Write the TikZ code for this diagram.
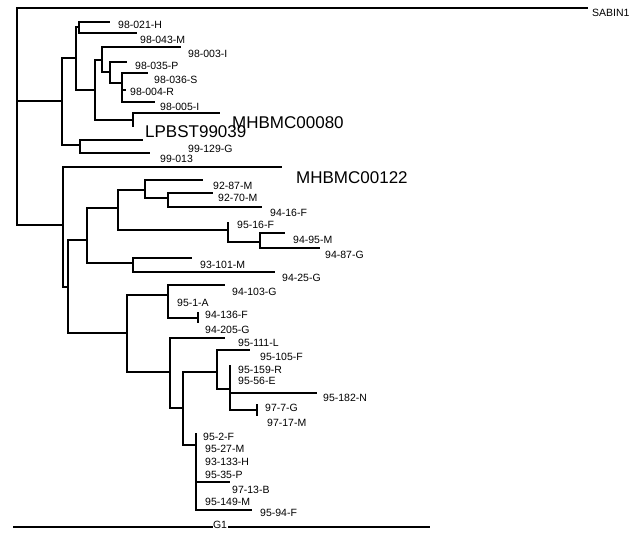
\documentclass[tikz,border=0pt]{standalone}
\usepackage{fontspec}
\setmainfont{Liberation Sans}

\begin{document}
\begin{tikzpicture}[x=1pt,y=-1pt,
    branch/.style={line width=1.1pt},
    lab/.style={anchor=west,inner sep=0pt,font=\fontsize{10.5}{11}\selectfont},
    biglab/.style={anchor=west,inner sep=0pt,font=\fontsize{17}{18}\selectfont}
]
    \useasboundingbox (0,0) rectangle (636,533);

    % Internal nodes (x of the split, y where the parent joins)
    \coordinate (root) at (17,101);
    \coordinate (A) at (62,101);
    \coordinate (A1) at (76,58);
    \coordinate (a11) at (79,27);
    \coordinate (a12) at (95,90);
    \coordinate (a121) at (102,60);
    \coordinate (a1211) at (110,72);
    \coordinate (a1212) at (122,83);
    \coordinate (a122) at (133,120);
    \coordinate (A2) at (80,145);
    \coordinate (B) at (63,225);
    \coordinate (Bc) at (68,287);
    \coordinate (B1) at (87,240);
    \coordinate (b11) at (118,208);
    \coordinate (b111) at (145,190);
    \coordinate (b1111) at (168,198);
    \coordinate (b112) at (228,230);
    \coordinate (b1121) at (260,242);
    \coordinate (b12) at (133,263);
    \coordinate (B2) at (127,333);
    \coordinate (b21) at (168,295);
    \coordinate (b211) at (198,318);
    \coordinate (b22) at (170,372);
    \coordinate (b221) at (183,408);
    \coordinate (b2211) at (217,372);
    \coordinate (b2212) at (230,389);
    \coordinate (b2213) at (257,410);
    \coordinate (b222) at (196,445);

    % Branch tips
    \foreach \n/\x/\y in {e1/110/22,e2/137/33,e3/181/47,e4/127/62,e5/148/73,e6/126/90,
        e7/155/102,e8/220/113,e9/133/127,e10/143/140,e11/150/153,e12/588/8,e13/282/167,
        e14/203/180,e15/213/193,e16/262/207,e17/228/222,e18/285/233,e19/320/248,
        e20/192/258,e21/275/272,e22/225/285,e23/198/312,e24/198/323,e25/225/338,
        e26/250/350,e27/230/365,e28/317/393,e29/257/404,e30/257/416,e31/196/433,
        e32/230/482,e33/252/510}
        \coordinate (\n) at (\x,\y);

    % Branches
    \foreach \p/\c in {root/e12,root/A,root/B,
        A/A1,A/A2,A1/a11,A1/a12,a11/e1,a11/e2,a12/a121,a12/a122,a121/e3,a121/a1211,
        a1211/e4,a1211/a1212,a1212/e5,a1212/e6,a1212/e7,a122/e8,a122/e9,A2/e10,A2/e11,
        B/e13,B/Bc,Bc/B1,Bc/B2,B1/b11,B1/b12,b11/b111,b11/b112,b111/e14,b111/b1111,
        b1111/e15,b1111/e16,b112/e17,b112/b1121,b1121/e18,b1121/e19,b12/e20,b12/e21,
        B2/b21,B2/b22,b21/e22,b21/b211,b211/e23,b211/e24,b22/e25,b22/b221,
        b221/b2211,b221/b222,b2211/e26,b2211/b2212,b2212/e27,b2212/e28,b2212/b2213,
        b2213/e29,b2213/e30,b222/e31,b222/e32,b222/e33}
        \draw[branch] (\p) |- (\c);

    % Strain labels
    \foreach \n/\x/\y/\t in {l1/118/25/98-021-H,l2/140/40/98-043-M,l3/188/54/98-003-I,
        l4/135/66/98-035-P,l5/154/80/98-036-S,l6/130/92/98-004-R,l7/160/107/98-005-I,
        l9/188/149/99-129-G,l11/160/159/99-013,l12/592/13/SABIN1,
        l14/213/186/92-87-M,l15/218/198/92-70-M,l16/270/213/94-16-F,l17/237/225/95-16-F,
        l18/293/240/94-95-M,l19/325/255/94-87-G,l20/200/265/93-101-M,l21/282/278/94-25-G,
        l22/232/292/94-103-G,l23/177/303/95-1-A,l24/205/315/94-136-F,l25/205/330/94-205-G,
        l26/238/343/95-111-L,l27/260/357/95-105-F,l28/238/370/95-159-R,l29/238/381/95-56-E,
        l30/323/398/95-182-N,l31/265/408/97-7-G,l32/267/423/97-17-M,l33/203/437/95-2-F,
        l34/205/449/95-27-M,l35/205/462/93-133-H,l36/205/475/95-35-P,l37/232/490/97-13-B,
        l38/205/502/95-149-M,l39/260/513/95-94-F}
        \node[lab] (\n) at (\x,\y) {\t};
    \node[biglab] (l8) at (232,123) {MHBMC00080};
    \node[biglab] (l10) at (145,132) {LPBST99039};
    \node[biglab] (l13) at (296,178) {MHBMC00122};

    % Bottom bar
    \coordinate (s0) at (13,527);
    \coordinate (s1) at (430,527);
    \draw[branch] (s0) -- (s1);
    \node[lab,anchor=center,fill=white,inner sep=0.5pt] (g1) at (220,525) {G1};
\end{tikzpicture}
\end{document}
